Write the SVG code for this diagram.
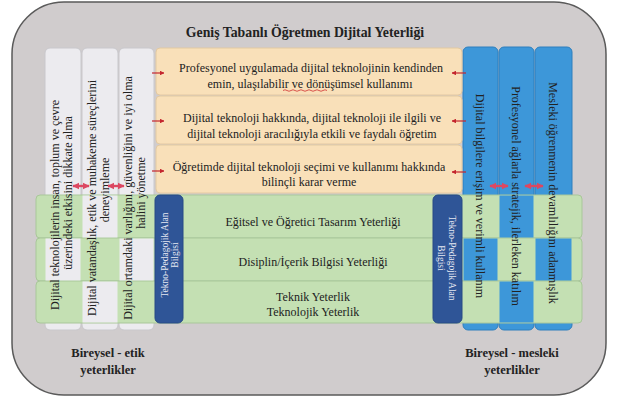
<svg xmlns="http://www.w3.org/2000/svg" width="618" height="399" viewBox="0 0 618 399">
<defs>
<marker id="ah" viewBox="0 0 10 10" refX="9" refY="5" markerWidth="4" markerHeight="4" orient="auto-start-reverse">
<path d="M0,0 L10,5 L0,10 z" fill="#c4262e"/>
</marker>
<marker id="ah2" viewBox="0 0 10 10" refX="9" refY="5" markerWidth="3" markerHeight="3" orient="auto-start-reverse">
<path d="M0,0 L10,5 L0,10 z" fill="#dc4862"/>
</marker>
</defs>
<style>
text{font-family:"Liberation Serif","Times New Roman",serif}
.t{font-size:12px;fill:#222;text-anchor:middle}
.tb{font-weight:bold;fill:#222;text-anchor:middle}
.tw{font-size:9.5px;fill:#e6e8f2;text-anchor:middle}
.gc{fill:#ecebef;stroke:#c9c8cc;stroke-width:1}
.gco{fill:#ecebef}
.bc{fill:#3d97d9;stroke:#2f7fbd;stroke-width:1}
.bco{fill:#3d97d9}
.gr{fill:#c4e0b3;stroke:#a9c79a;stroke-width:1}
.or{fill:#f9e0b9;stroke:#e2c9a2;stroke-width:1}
.db{fill:#2f5597;stroke:#284a85;stroke-width:1}
.ar{stroke:#c4262e;stroke-width:1.2;fill:none;marker-end:url(#ah)}
.da{stroke:#dc4862;stroke-width:2.4;fill:none;marker-start:url(#ah2);marker-end:url(#ah2)}
</style>

<g id="frame">
<rect x="12" y="2" width="594" height="393" rx="52" fill="#d0cccd" stroke="#5a5a5a" stroke-width="1.5"/>
<text class="tb" x="305" y="37" font-size="13.8">Geniş Tabanlı Öğretmen Dijital Yeterliği</text>
</g>

<g id="colBases">
<rect class="gc" x="45" y="48" width="36" height="282" rx="5"/>
<rect class="gc" x="82" y="48" width="36" height="282" rx="5"/>
<rect class="gc" x="119" y="48" width="35" height="282" rx="5"/>
<rect class="bc" x="463" y="47" width="35" height="283" rx="5"/>
<rect class="bc" x="499" y="47" width="35" height="283" rx="5"/>
<rect class="bc" x="535" y="47" width="37" height="283" rx="5"/>
</g>

<g id="band-egitsel">
<rect class="gr" x="36" y="195" width="546" height="43" rx="4"/>
</g>
<g id="band-disiplin">
<rect class="gr" x="36" y="238" width="546" height="43" rx="4"/>
</g>
<g id="band-teknik">
<rect class="gr" x="36" y="281" width="546" height="42" rx="4"/>
</g>

<g id="weave">
<rect class="gco" x="45.5" y="238.5" width="35" height="42"/>
<rect class="gco" x="82.5" y="195.5" width="35" height="42"/>
<rect class="gco" x="82.5" y="281.5" width="35" height="41"/>
<rect class="gco" x="119.5" y="238.5" width="34" height="42"/>
<rect class="bco" x="463.5" y="238.5" width="34" height="42"/>
<rect class="bco" x="499.5" y="195.5" width="34" height="42"/>
<rect class="bco" x="499.5" y="281.5" width="34" height="41"/>
<rect class="bco" x="535.5" y="238.5" width="36" height="42"/>
</g>

<g id="box-profesyonel">
<rect class="or" x="156" y="48" width="306" height="47" rx="4"/>
<text class="t" x="311" y="72">Profesyonel uygulamada dijital teknolojinin kendinden</text>
<text class="t" x="310" y="88">emin, ulaşılabilir ve dönüşümsel kullanımı</text>
<path d="M283,90.5 q2,-1.5 4,0 t4,0 t4,0 t4,0 t4,0 t4,0 t4,0 t4,0 t4,0 t4,0 t4,0" stroke="#d03030" stroke-width="0.8" fill="none"/>
</g>
<g id="box-ogretim">
<rect class="or" x="156" y="96" width="306" height="48" rx="4"/>
<text class="t" x="312" y="122">Dijital teknoloji hakkında, dijital teknoloji ile ilgili ve</text>
<text class="t" x="312" y="138">dijital teknoloji aracılığıyla etkili ve faydalı öğretim</text>
</g>
<g id="box-karar">
<rect class="or" x="156" y="145" width="306" height="48" rx="4"/>
<text class="t" x="309" y="171">Öğretimde dijital teknoloji seçimi ve kullanımı hakkında</text>
<text class="t" x="309" y="186">bilinçli karar verme</text>
</g>

<g id="bar-left">
<rect class="db" x="155" y="195" width="28" height="128" rx="5"/>
<g transform="translate(169,255) rotate(-90)">
<text class="tw" x="0" y="-1.5">Tekno-Pedagojik Alan</text>
<text class="tw" x="0" y="9">Bilgisi</text>
</g>
</g>
<g id="bar-right">
<rect class="db" x="433" y="195" width="29" height="128" rx="5"/>
<g transform="translate(447,258) rotate(90)">
<text class="tw" x="0" y="-1.5">Tekno-Pedagojik Alan</text>
<text class="tw" x="0" y="9">Bilgisi</text>
</g>
</g>

<g id="text-bands">
<text class="t" x="313" y="226">Eğitsel ve Öğretici Tasarım Yeterliği</text>
<text class="t" x="313" y="266">Disiplin/İçerik Bilgisi Yeterliği</text>
<text class="t" x="313" y="301">Teknik Yeterlik</text>
<text class="t" x="313" y="316">Teknolojik Yeterlik</text>
</g>

<g id="col-insan">
<g transform="translate(63,205) rotate(-90)">
<text class="t" x="0" y="-4">Dijital teknolojilerin insan, toplum ve çevre</text>
<text class="t" x="12" y="9">üzerindeki etkisini dikkate alma</text>
</g>
</g>
<g id="col-vatandas">
<g transform="translate(100,198) rotate(-90)">
<text class="t" x="0" y="-4">Dijital vatandaşlık, etik ve muhakeme süreçlerini</text>
<text class="t" x="8" y="9">deneyimleme</text>
</g>
</g>
<g id="col-ortam">
<g transform="translate(136,198) rotate(-90)">
<text class="t" x="0" y="-4">Dijital ortamdaki varlığını, güvenliğini ve iyi olma</text>
<text class="t" x="5" y="9">halini yönetme</text>
</g>
</g>

<g id="col-erisim">
<text class="t" transform="translate(480,196) rotate(90)" x="0" y="4">Dijital bilgilere erişim ve verimli kullanım</text>
</g>
<g id="col-aglar">
<text class="t" transform="translate(516,196) rotate(90)" x="0" y="4">Profesyonel ağlarla stratejik, ilerleken katılım</text>
</g>
<g id="col-mesleki">
<text class="t" transform="translate(553,193) rotate(90)" x="0" y="4">Mesleki öğrenmenin devamlılığını adanmışlık</text>
</g>

<g id="label-etik">
<text class="tb" x="108" y="357" font-size="12.5">Bireysel - etik</text>
<text class="tb" x="108" y="374" font-size="12.5">yeterlikler</text>
</g>
<g id="label-mesleki">
<text class="tb" x="512" y="357" font-size="12.5">Bireysel - mesleki</text>
<text class="tb" x="512" y="374" font-size="12.5">yeterlikler</text>
</g>

<g id="connectors">
<line class="ar" x1="152" y1="73" x2="164" y2="73"/>
<line class="ar" x1="152" y1="121" x2="164" y2="121"/>
<line class="ar" x1="152" y1="171" x2="164" y2="171"/>
<line class="ar" x1="466" y1="73" x2="452" y2="73"/>
<line class="ar" x1="466" y1="121" x2="452" y2="121"/>
<line class="ar" x1="466" y1="172" x2="452" y2="172"/>
<line class="da" x1="73" y1="186" x2="89" y2="186"/>
<line class="da" x1="108" y1="186" x2="124" y2="186"/>
<line class="da" x1="490" y1="186" x2="508" y2="186"/>
<line class="da" x1="525" y1="186" x2="543" y2="186"/>
</g>
</svg>
